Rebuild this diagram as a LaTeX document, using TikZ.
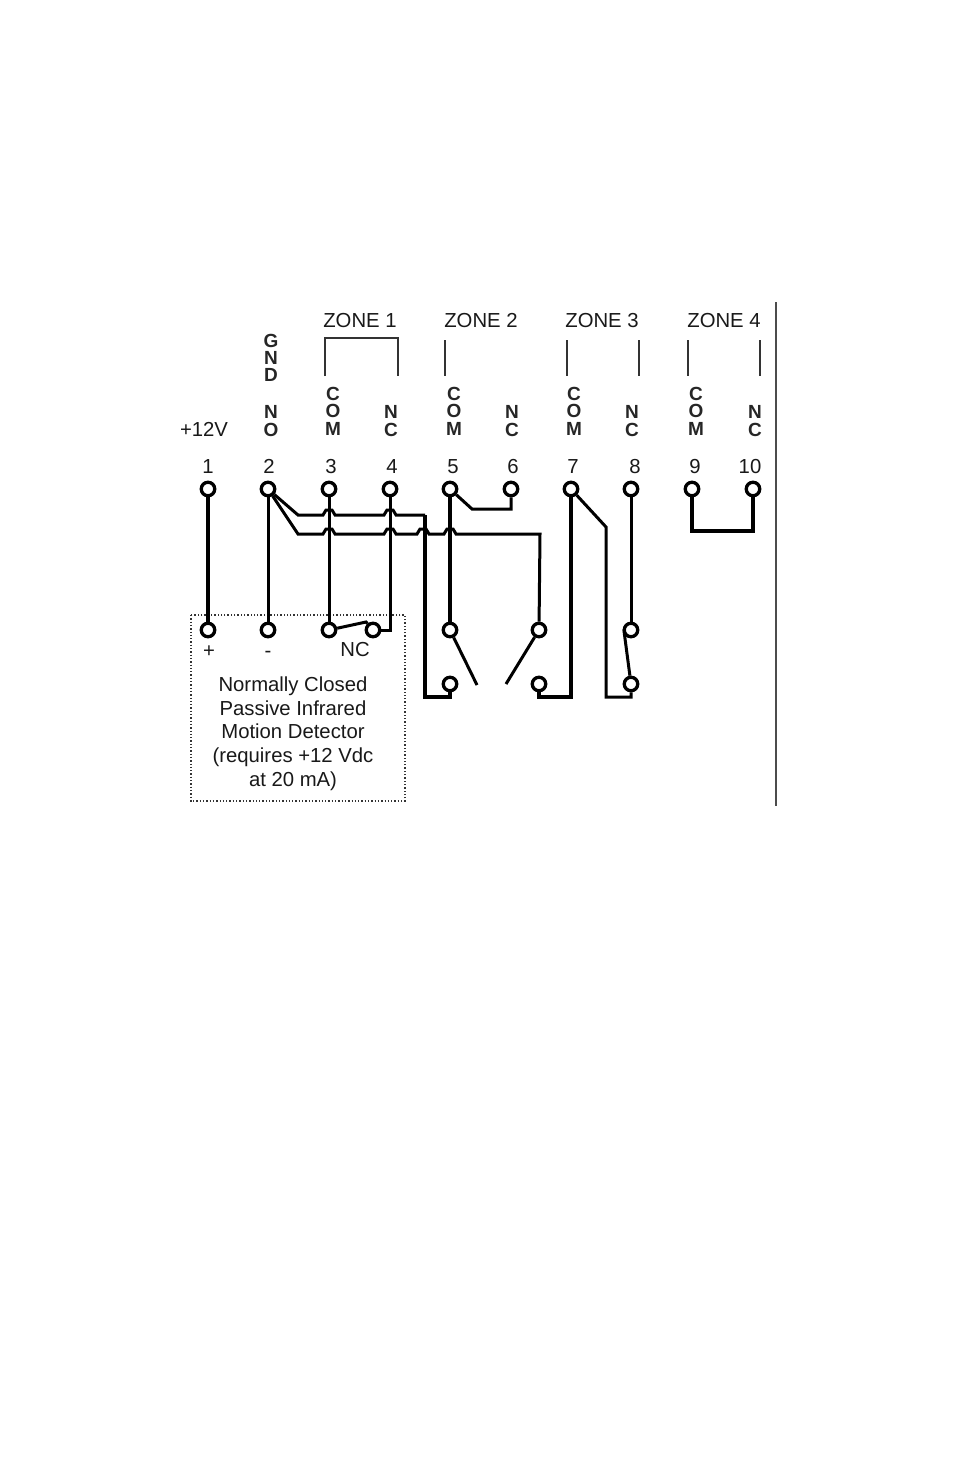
\documentclass[tikz,border=0pt]{standalone}
\usepackage{fontspec}
\setmainfont{Liberation Sans}
\pgfdeclarelayer{wires}
\pgfsetlayers{wires,main}
\tikzset{
  x=1pt,y=-1pt,
  term/.style={circle,draw=black,fill=white,line width=3.3pt,minimum size=13.5pt,inner sep=0pt},
  lbl/.style={font=\fontsize{20.3}{24}\selectfont,text=black!90,inner sep=0pt,anchor=base,yshift=-7pt},
  stack/.style={font=\fontsize{19}{19}\selectfont\bfseries,text=black!85,inner sep=0pt,anchor=base,yshift=-6.8pt},
  thinw/.style={draw=black,line width=3pt,line join=miter},
  midw/.style={draw=black,line width=3.6pt,line join=miter},
  thickw/.style={draw=black,line width=4.6pt,line join=miter},
  zone/.style={draw=black!80,line width=1.5pt},
  detbox/.style={draw=black!80,line width=1.3pt,dotted},
  wall/.style={draw=black!70,line width=2pt},
}
\begin{document}
\begin{tikzpicture}
% coordinates of bends and free ends
\coordinate (w1) at (298,515);
\coordinate (w1b) at (425,515);
\coordinate (w1c) at (425,697);
\coordinate (w1d) at (450,697);
\coordinate (w2) at (298,534);
\coordinate (w2b) at (540,534);
\coordinate (j5a) at (472,509);
\coordinate (j5b) at (511,509);
\coordinate (j7a) at (571,697);
\coordinate (j7b) at (539,697);
\coordinate (k7a) at (606,527);
\coordinate (k7b) at (606,697);
\coordinate (k7c) at (631,697);
\coordinate (j9a) at (692,531);
\coordinate (j9b) at (753,531);
\coordinate (j4) at (390,630);
\coordinate (jnc) at (366,622);
\coordinate (s1) at (477,685);
\coordinate (s2) at (506,684);
\coordinate (w8) at (624,631);
\coordinate (zt1a) at (325,338);
\coordinate (zt1b) at (398,338);
\coordinate (zb1a) at (325,376);
\coordinate (zb1b) at (398,376);
\coordinate (z5a) at (445,340);
\coordinate (z5b) at (445,376);
\coordinate (z7a) at (567,340);
\coordinate (z7b) at (567,376);
\coordinate (z8a) at (639,340);
\coordinate (z8b) at (639,376);
\coordinate (z9a) at (688,340);
\coordinate (z9b) at (688,376);
\coordinate (z10a) at (760,340);
\coordinate (z10b) at (760,376);
\coordinate (wa) at (776,302);
\coordinate (wb) at (776,806);
\coordinate (ba) at (191,615);
\coordinate (bb) at (405,801);

% terminals
\foreach \n/\x in {1/208,2/268,3/329,4/390,5/450,6/511,7/571,8/631,9/692,10/753}
  \node[term] (t\n) at (\x,489) {};
\foreach \n/\x in {1/208,2/268,3/329,5/450,6/539,8/631}
  \node[term] (b\n) at (\x,630) {};
\node[term] (bnc) at (373,630) {};
\node[term] (c5) at (450,684) {};
\node[term] (c6) at (539,684) {};
\node[term] (c8) at (631,684) {};

% wiring, under the terminals
\begin{pgfonlayer}{wires}
\fill[white] (0,0) rectangle (954,1475);
\draw[wall] (wa) -- (wb);
\draw[detbox] (ba) rectangle (bb);
\draw[zone] (zb1a) -- (zt1a) -- (zt1b) -- (zb1b);
\draw[zone] (z5a) -- (z5b);
\draw[zone] (z7a) -- (z7b);
\draw[zone] (z8a) -- (z8b);
\draw[zone] (z9a) -- (z9b);
\draw[zone] (z10a) -- (z10b);

\draw[thickw] (t1) -- (b1);
\draw[thinw] (t2) -- (b2);
\draw[thinw] (t3) -- (b3);
\draw[thinw] (t4) -- (j4) -- (bnc);
\draw[thickw] (t5) -- (b5);
\draw[thickw] (t7) -- (j7a) -- (j7b) -- (c6);
\draw[thinw] (t8) -- (b8);
\draw[midw] (t9) -- (j9a) -- (j9b) -- (t10);
\draw[thinw] (t5) -- (j5a) -- (j5b) -- (t6);
\draw[thinw] (t7) -- (k7a) -- (k7b) -- (k7c) -- (c8);
\draw[thinw] (t2) -- (w1)
  -- ++(25,0) -- ++(3,-5) -- ++(6,0) -- ++(3,5)
  -- ++(49,0) -- ++(3,-5) -- ++(6,0) -- ++(3,5)
  -- (w1b);
\draw[midw] (w1b) -- (w1c) -- (w1d) -- (c5);
\draw[thinw] (t2) -- (w2)
  -- ++(25,0) -- ++(3,-5) -- ++(6,0) -- ++(3,5)
  -- ++(49,0) -- ++(3,-5) -- ++(6,0) -- ++(3,5)
  -- ++(21,0) -- ++(3,-5) -- ++(6,0) -- ++(3,5)
  -- ++(15,0) -- ++(3,-5) -- ++(6,0) -- ++(3,5)
  -- (w2b) -- (b6);
\draw[thinw] (b3) -- (jnc) -- (bnc);
\draw[thinw] (b5) -- (s1);
\draw[thinw] (b6) -- (s2);
\draw[thinw] (b8) -- (w8) -- (c8);
\end{pgfonlayer}

% terminal numbers
\foreach \n/\x in {1/208,2/269,3/331,4/392,5/453,6/513,7/573,8/635,9/695,10/750}
  \node[lbl] (num\n) at (\x,466) {\n};

% zones
\node[lbl] (zone1) at (360,320) {ZONE 1};
\node[lbl] (zone2) at (481,320) {ZONE 2};
\node[lbl] (zone3) at (602,320) {ZONE 3};
\node[lbl] (zone4) at (724,320) {ZONE 4};

\node[lbl] (plus12) at (204,429) {+12V};

% stacked labels
\node[stack] (g1) at (271,341) {G};
\node[stack] (g2) at (271,358) {N};
\node[stack] (g3) at (271,375) {D};
\node[stack] (no1) at (271,412) {N};
\node[stack] (no2) at (271,430) {O};
\foreach \x in {333,454,574,696}{
  \node[stack] (com\x c) at (\x,394) {C};
  \node[stack] (com\x o) at (\x,411) {O};
  \node[stack] (com\x m) at (\x,429) {M};
}
\foreach \x in {391,512,632,755}{
  \node[stack] (nc\x n) at (\x,412) {N};
  \node[stack] (nc\x c) at (\x,430) {C};
}

% detector labels
\node[lbl] (plus) at (209,650) {+};
\node[lbl] (minus) at (268,650) {-};
\node[lbl] (nc) at (355,649) {NC};
\node[lbl] (d1) at (293,684) {Normally Closed};
\node[lbl] (d2) at (293,708) {Passive Infrared};
\node[lbl] (d3) at (293,731) {Motion Detector};
\node[lbl] (d4) at (293,755) {(requires +12 Vdc};
\node[lbl] (d5) at (293,779) {at 20 mA)};
\end{tikzpicture}
\end{document}
